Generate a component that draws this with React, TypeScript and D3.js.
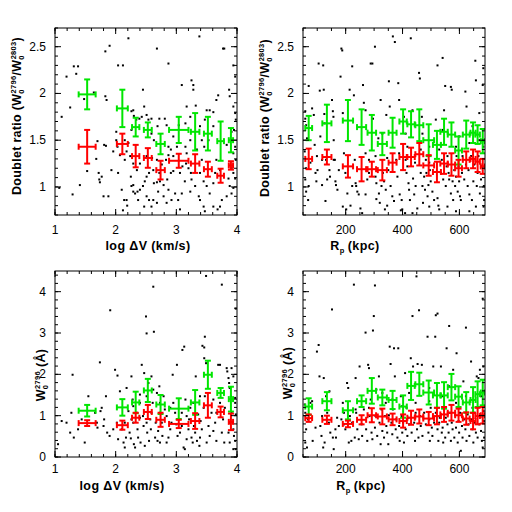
import React from 'react';
import * as d3 from 'd3';

// ---- binned values, log dV panels ----
const dvBins = [1.53, 2.11, 2.33, 2.53, 2.74, 3.04, 3.31, 3.52, 3.73, 3.9];
const dvBinErr = [0.14, 0.09, 0.06, 0.065, 0.07, 0.16, 0.07, 0.065, 0.055, 0.035];
const drDvGreen = [1.99, 1.84, 1.64, 1.61, 1.46, 1.61, 1.59, 1.57, 1.49, 1.5];
const drDvGreenErr = [0.16, 0.2, 0.1, 0.08, 0.11, 0.14, 0.2, 0.18, 0.21, 0.13];
const drDvRed = [1.43, 1.46, 1.33, 1.31, 1.18, 1.28, 1.25, 1.19, 1.12, 1.23];
const drDvRedErr = [0.18, 0.11, 0.12, 0.105, 0.1, 0.075, 0.1, 0.08, 0.075, 0.045];
const wDvGreen = [1.12, 1.2, 1.32, 1.61, 1.27, 1.17, 1.32, 1.99, 1.55, 1.4];
const wDvGreenErr = [0.14, 0.2, 0.26, 0.28, 0.23, 0.25, 0.3, 0.34, 0.12, 0.3];
const wDvRed = [0.82, 0.77, 0.95, 1.09, 0.9, 0.8, 0.87, 1.25, 1.09, 0.85];
const wDvRedErr = [0.07, 0.11, 0.12, 0.17, 0.17, 0.1, 0.19, 0.3, 0.13, 0.2];

// ---- binned values, Rp panels ----
const rpBins = [70, 134, 208, 256, 292, 329, 365, 402, 430, 459, 492, 521, 546, 572, 597, 624, 648, 664, 682];
const rpBinErr = [12, 16, 18, 16, 15, 16, 14, 13, 13, 14, 19, 14, 13, 13, 12, 12, 9, 8, 7];
const drRpGreen = [1.63, 1.68, 1.71, 1.64, 1.58, 1.46, 1.58, 1.7, 1.67, 1.66, 1.5, 1.45, 1.59, 1.56, 1.39, 1.56, 1.58, 1.56, 1.49];
const drRpGreenErr = [0.13, 0.2, 0.22, 0.19, 0.19, 0.12, 0.16, 0.13, 0.14, 0.17, 0.17, 0.15, 0.14, 0.13, 0.15, 0.15, 0.11, 0.1, 0.13];
const drRpRed = [1.3, 1.32, 1.22, 1.19, 1.19, 1.18, 1.26, 1.32, 1.32, 1.35, 1.23, 1.16, 1.25, 1.24, 1.2, 1.29, 1.3, 1.27, 1.22];
const drRpRedErr = [0.11, 0.08, 0.12, 0.13, 0.08, 0.11, 0.1, 0.14, 0.1, 0.12, 0.11, 0.11, 0.11, 0.12, 0.09, 0.09, 0.1, 0.11, 0.08];
const wRpGreen = [1.22, 1.35, 1.13, 1.35, 1.6, 1.44, 1.38, 1.22, 1.72, 1.76, 1.56, 1.49, 1.49, 1.69, 1.46, 1.32, 1.38, 1.52, 1.56];
const wRpGreenErr = [0.2, 0.22, 0.22, 0.14, 0.31, 0.19, 0.22, 0.27, 0.34, 0.28, 0.29, 0.3, 0.32, 0.32, 0.25, 0.25, 0.31, 0.31, 0.31];
const wRpRed = [0.94, 0.9, 0.8, 0.9, 1.01, 0.98, 0.91, 0.87, 0.95, 0.98, 0.93, 0.99, 1.03, 1.07, 1.01, 0.93, 0.87, 0.99, 1.01];
const wRpRedErr = [0.09, 0.1, 0.08, 0.11, 0.17, 0.19, 0.14, 0.16, 0.17, 0.17, 0.16, 0.2, 0.18, 0.19, 0.16, 0.15, 0.2, 0.2, 0.2];

// ---- individual absorbers (black dots) ----
const dotsDrDv: [number, number][] = [
  [1.11, 1.75], [1.07, 0.99], [1.19, 2.18], [1.25, 1.85], [1.29, 0.92], [1.31, 2.29], [1.35, 2.21], [1.38, 2.29],
  [1.41, 1.02], [1.48, 1.94], [1.64, 2.01], [1.7, 1.49], [1.68, 1.3], [1.53, 1.17], [1.72, 1.15], [1.73, 1.08],
  [1.74, 1.05], [1.77, 1.11], [1.83, 2.45], [1.9, 2.51], [1.83, 1.97], [1.85, 1.93], [1.81, 1.45], [1.84, 1.44],
  [1.8, 0.9], [1.88, 0.9], [2.04, 2.3], [2.12, 2.3], [2.21, 2.59], [2.01, 1.59], [2.01, 1.5], [2.03, 1.43],
  [2.07, 1.34], [2.04, 1.15], [2.1, 0.97], [2.12, 0.75], [2.18, 0.86], [2.19, 0.8], [2.26, 1.81], [2.29, 1.82],
  [2.3, 1.76], [2.34, 1.72], [2.26, 1.61], [2.39, 1.73], [2.43, 1.75], [2.45, 2.04], [2.47, 1.86], [2.51, 1.77],
  [2.54, 1.72], [2.59, 1.73], [2.59, 1.57], [2.63, 1.5], [2.68, 2.48], [2.69, 1.65], [2.72, 1.73], [2.81, 1.73],
  [2.87, 2.32], [2.84, 1.66], [2.68, 1.29], [2.6, 1.31], [2.51, 1.33], [2.4, 1.25], [2.29, 1.25], [2.35, 1.18],
  [2.25, 1.11], [2.29, 1.02], [2.29, 0.95], [2.32, 0.93], [2.36, 0.95], [2.4, 0.97], [2.45, 1.01], [2.48, 1.06],
  [2.51, 1.11], [2.55, 1.15], [2.62, 1.18], [2.63, 1.04], [2.68, 1.05], [2.73, 1.06], [2.79, 1.02], [2.85, 1.08],
  [2.91, 1.15], [2.95, 1.17], [2.95, 1.33], [2.91, 1.4], [2.87, 1.43], [2.95, 1.54], [2.47, 0.79], [2.62, 0.86],
  [2.68, 0.83], [2.79, 0.9], [2.84, 0.83], [3.06, 0.76], [3.09, 2.09], [3.17, 1.86], [3.25, 2.14], [3.28, 2.09],
  [3.28, 2.04], [3.32, 1.87], [3.17, 1.36], [3.2, 1.2], [3.24, 1.15], [3.25, 1.08], [3.23, 0.95], [3.31, 1.01],
  [3.37, 0.9], [3.39, 0.86], [3.45, 0.79], [3.47, 0.74], [3.38, 2.61], [3.5, 1.82], [3.55, 1.82], [3.61, 1.8],
  [3.47, 1.72], [3.46, 1.43], [3.61, 1.65], [3.69, 1.98], [3.66, 1.93], [3.77, 2.48], [3.79, 2.48], [3.87, 2.04],
  [3.88, 1.97], [3.94, 2.3], [3.97, 2.18], [3.94, 1.86], [3.97, 1.79], [3.98, 1.72], [3.95, 1.61], [3.91, 1.59],
  [3.83, 1.45], [3.97, 1.43], [3.94, 1.36], [3.98, 1.29], [3.91, 1.2], [3.94, 1.15], [3.86, 1.09], [3.97, 1.09],
  [3.88, 1.01], [3.94, 0.99], [3.91, 0.93], [3.83, 0.9], [3.75, 0.86], [3.72, 0.79], [3.68, 0.76], [3.61, 0.79],
  [3.55, 0.93], [3.61, 1.04], [3.64, 1.15], [3.72, 1.18], [3.66, 1.29], [3.42, 1.29], [3.39, 1.15], [3.45, 1.06],
  [3.5, 1.01], [3.14, 1.06], [3.09, 0.93], [3.03, 0.86], [2.98, 0.93], [2.92, 0.86], [2.87, 0.97], [3.06, 1.15],
  [3.1, 1.22], [3.16, 1.25], [2.15, 1.29], [2.18, 1.38], [2.15, 1.5], [2.21, 1.47], [2.24, 1.33], [1.96, 1.38],
  [1.93, 1.18], [2.14, 0.86], [2.26, 1.01], [2.37, 0.86], [2.51, 0.9], [2.55, 0.86], [2.59, 0.79], [2.7, 0.95],
  [2.72, 1.15], [2.76, 1.24], [2.83, 1.29], [2.87, 1.34], [3.01, 1.43], [3.04, 1.66], [3.15, 1.68], [3.23, 1.75],
  [3.39, 1.65], [3.42, 1.5], [3.53, 1.5], [3.34, 1.4], [3.23, 1.5], [3.15, 1.43],
];

const dotsDrRp: [number, number][] = [
  [58, 1.81], [58, 1.73], [61, 1.66], [64, 1.52], [56, 1.38], [61, 1.2], [58, 1.08], [61, 0.95], [68, 0.86], [70, 2.08],
  [82, 1.84], [88, 1.77], [91, 1.45], [94, 1.15], [97, 1.06], [101, 1.18], [105, 2.32], [109, 2.03], [111, 1.54], [117, 1.29],
  [117, 1.02], [121, 2.3], [123, 2.04], [125, 1.78], [126, 1.68], [129, 0.85], [131, 1.29], [135, 1.08], [143, 1.18], [145, 1.11],
  [152, 1.93], [155, 1.81], [157, 1.75], [158, 1.5], [162, 1.29], [164, 1.06], [166, 1.02], [171, 0.97], [182, 2.18], [185, 2.48],
  [188, 2.46], [190, 1.79], [190, 0.79], [194, 1.36], [199, 1.15], [202, 0.76], [206, 0.93], [214, 2.04], [217, 0.8], [223, 2.29],
  [229, 1.98], [232, 1.29], [235, 1.04], [237, 1.01], [241, 0.95], [246, 0.92], [252, 0.77], [258, 0.72], [261, 2.09], [264, 1.9],
  [270, 1.82], [270, 1.36], [276, 1.08], [282, 1.15], [288, 2.32], [294, 2.32], [296, 1.73], [303, 2.5], [305, 1.11], [308, 1.04],
  [308, 0.87], [315, 1.52], [317, 0.93], [320, 0.83], [323, 1.93], [326, 1.01], [331, 1.15], [335, 1.06], [338, 0.76], [341, 0.97],
  [343, 1.77], [346, 0.8], [350, 1.18], [352, 2.13], [355, 1.86], [358, 1.01], [364, 0.9], [366, 2.61], [370, 0.85], [373, 2.55],
  [378, 1.29], [382, 1.11], [385, 2.11], [388, 1.93], [390, 0.92], [394, 0.75], [397, 0.86], [399, 0.76], [405, 1.75], [409, 0.72],
  [411, 1.29], [414, 1.15], [417, 1.22], [421, 1.04], [423, 0.97], [426, 0.86], [429, 2.59], [435, 1.82], [437, 1.09], [441, 0.92],
  [444, 1.26], [446, 1.01], [452, 0.77], [458, 2.22], [461, 2.16], [464, 1.15], [468, 1.75], [470, 1.01], [472, 0.83], [476, 1.11],
  [479, 0.97], [482, 1.29], [484, 1.15], [488, 0.9], [491, 1.02], [494, 1.26], [496, 1.18], [499, 1.06], [505, 0.95], [511, 0.86],
  [517, 1.72], [523, 2.3], [523, 0.88], [526, 0.8], [529, 0.76], [535, 1.15], [538, 1.29], [541, 2.38], [543, 1.08], [546, 1.82],
  [550, 2.08], [552, 1.01], [555, 1.22], [558, 1.33], [562, 1.15], [564, 1.08], [570, 2.07], [570, 0.93], [573, 2.04], [576, 1.06],
  [578, 0.86], [582, 1.18], [585, 1.01], [588, 1.11], [590, 1.33], [594, 0.95], [597, 1.22], [599, 1.06], [602, 0.9], [605, 0.86],
  [609, 1.15], [611, 1.33], [617, 1.08], [621, 2.02], [623, 1.24], [625, 1.86], [629, 1.01], [632, 1.18], [635, 0.92], [641, 1.33],
  [644, 0.86], [649, 1.06], [652, 1.24], [656, 2.35], [658, 2.14], [661, 1.01], [664, 1.15], [667, 1.33], [670, 1.79], [672, 0.93],
  [676, 1.08], [679, 1.22], [682, 2.09], [684, 2.27], [684, 1.43], [686, 1.01], [687, 0.86], [685, 0.79], [658, 0.79], [635, 0.74],
  [588, 0.74], [558, 0.79], [494, 0.79], [435, 0.72], [270, 0.92], [223, 1.01], [176, 1.18], [158, 1.29], [99, 1.33], [76, 1.26],
  [70, 1.01], [282, 1.29], [305, 1.33], [346, 1.31], [388, 1.36], [417, 1.43], [464, 1.4], [494, 1.43], [529, 1.4], [588, 1.43],
  [635, 1.47], [670, 1.5], [329, 1.57], [411, 1.57], [470, 1.57], [541, 1.61], [599, 1.54], [646, 1.65],
];

const dotsWDv: [number, number][] = [
  [1.05, 0.31], [1.11, 0.87], [1.19, 0.83], [1.25, 0.59], [1.27, 1.07], [1.29, 1.99], [1.31, 0.47], [1.38, 0.67],
  [1.44, 0.91], [1.49, 0.35], [1.55, 1.47], [1.66, 1.07], [1.69, 0.83], [1.7, 0.71], [1.74, 2.29], [1.75, 1.11],
  [1.77, 1.19], [1.8, 0.75], [1.81, 0.91], [1.84, 1.47], [1.86, 0.59], [1.9, 0.51], [1.91, 3.55], [1.96, 0.67],
  [1.99, 2.11], [2.03, 1.97], [2.02, 0.83], [2.04, 0.43], [2.07, 1.59], [2.1, 0.67], [2.13, 0.35], [2.15, 0.23],
  [2.17, 0.47], [2.18, 1.67], [2.21, 1.11], [2.23, 0.59], [2.25, 0.45], [2.26, 1.95], [2.28, 1.39], [2.29, 0.83],
  [2.3, 0.31], [2.32, 0.23], [2.35, 1.07], [2.36, 0.67], [2.37, 0.47], [2.4, 1.51], [2.41, 0.35], [2.43, 2.23],
  [2.45, 0.99], [2.46, 0.75], [2.47, 2.03], [2.48, 0.27], [2.5, 3.4], [2.51, 2.99], [2.52, 0.59], [2.54, 1.79],
  [2.55, 0.39], [2.57, 0.91], [2.58, 0.67], [2.59, 1.95], [2.61, 1.31], [2.62, 4.12], [2.63, 3.03], [2.65, 0.47],
  [2.66, 0.83], [2.68, 1.55], [2.69, 0.39], [2.7, 0.63], [2.72, 1.71], [2.73, 0.35], [2.76, 0.83], [2.77, 0.51],
  [2.79, 1.47], [2.81, 1.15], [2.84, 0.35], [2.87, 0.47], [2.9, 0.67], [2.92, 0.83], [2.94, 1.99], [2.95, 1.31],
  [2.98, 1.07], [3.0, 0.79], [3.01, 2.23], [3.02, 0.51], [3.06, 0.59], [3.09, 1.07], [3.1, 2.59], [3.13, 2.67],
  [3.12, 0.23], [3.14, 0.19], [3.17, 0.43], [3.2, 0.67], [3.21, 0.91], [3.23, 1.19], [3.25, 0.47], [3.27, 0.35],
  [3.28, 1.31], [3.29, 0.75], [3.31, 0.59], [3.32, 1.95], [3.34, 0.39], [3.36, 1.03], [3.38, 0.27], [3.39, 0.47],
  [3.4, 0.87], [3.42, 0.67], [3.43, 2.69], [3.46, 2.65], [3.47, 2.91], [3.46, 2.39], [3.49, 2.27], [3.45, 1.19],
  [3.49, 4.38], [3.5, 0.35], [3.53, 0.75], [3.55, 0.51], [3.58, 1.07], [3.61, 0.63], [3.64, 0.83], [3.66, 0.39],
  [3.69, 2.23], [3.72, 2.23], [3.75, 4.17], [3.75, 0.59], [3.77, 0.91], [3.79, 0.35], [3.8, 1.19], [3.83, 2.15],
  [3.84, 2.07], [3.86, 1.91], [3.87, 1.79], [3.88, 1.67], [3.9, 1.47], [3.91, 1.07], [3.93, 0.83], [3.94, 0.67],
  [3.95, 0.51], [3.97, 0.39], [3.98, 0.19], [3.98, 3.59], [3.98, 1.03], [3.97, 1.43], [3.94, 1.95], [3.91, 2.15],
  [3.87, 0.83], [3.86, 0.59], [3.88, 0.35], [3.97, 1.31], [3.94, 0.19], [3.61, 1.39], [3.47, 1.47], [3.17, 0.99],
  [3.09, 0.75], [2.9, 1.19], [2.73, 1.07], [2.59, 1.07], [2.51, 0.83], [2.4, 0.95], [2.26, 0.91], [2.15, 0.83],
  [2.4, 1.31], [2.29, 1.23], [2.73, 1.31], [2.84, 0.99], [2.51, 1.47], [2.62, 1.63], [3.15, 1.39], [3.39, 1.47],
  [3.72, 1.31], [3.66, 1.07],
];

const dotsWRp: [number, number][] = [
  [56, 1.27], [58, 1.07], [61, 0.67], [58, 0.35], [64, 0.23], [68, 0.91], [76, 1.31], [82, 1.35], [84, 0.39], [94, 0.71],
  [99, 2.55], [105, 2.71], [108, 1.95], [111, 0.75], [115, 0.51], [117, 0.99], [121, 0.23], [123, 1.91], [126, 0.35], [131, 1.47],
  [135, 1.07], [141, 0.83], [143, 1.59], [146, 0.59], [152, 3.57], [155, 0.47], [158, 0.19], [164, 0.67], [166, 0.47], [170, 0.95],
  [176, 0.75], [185, 0.91], [190, 1.31], [194, 0.79], [199, 0.67], [205, 1.79], [209, 1.67], [211, 0.35], [215, 0.99], [220, 0.39],
  [223, 0.83], [229, 4.17], [232, 0.47], [235, 1.91], [237, 1.07], [241, 0.67], [246, 0.43], [249, 2.19], [256, 0.79], [258, 0.51],
  [264, 1.15], [270, 3.01], [272, 0.67], [276, 0.39], [279, 2.23], [282, 2.15], [284, 0.99], [288, 1.39], [291, 0.59], [294, 0.43],
  [296, 3.06], [299, 3.41], [303, 4.15], [303, 0.71], [305, 0.99], [308, 1.63], [311, 0.51], [317, 1.95], [319, 0.83], [323, 0.31],
  [326, 1.15], [329, 0.63], [335, 0.47], [338, 0.99], [341, 1.31], [343, 0.75], [346, 0.59], [350, 0.31], [352, 1.01], [355, 2.67],
  [358, 2.25], [361, 0.83], [364, 0.55], [366, 1.15], [370, 2.63], [373, 1.95], [376, 0.67], [378, 0.91], [382, 0.47], [385, 2.63],
  [388, 0.75], [390, 0.39], [394, 1.47], [397, 0.99], [399, 0.59], [402, 0.83], [405, 0.35], [409, 2.03], [411, 0.67], [414, 1.19],
  [417, 0.51], [421, 0.95], [423, 0.79], [429, 2.39], [432, 0.59], [435, 3.41], [437, 2.19], [441, 0.83], [444, 0.39], [446, 1.07],
  [449, 4.37], [451, 0.67], [453, 2.25], [456, 0.47], [458, 3.55], [461, 0.99], [464, 0.75], [468, 2.23], [470, 0.51], [476, 1.07],
  [482, 0.79], [488, 2.91], [491, 0.59], [494, 0.91], [496, 0.39], [499, 1.19], [503, 0.71], [505, 0.51], [508, 2.19], [511, 0.83],
  [515, 2.91], [517, 3.43], [517, 1.07], [523, 3.47], [523, 0.67], [526, 0.39], [529, 0.83], [531, 0.95], [535, 2.19], [538, 0.59],
  [541, 0.71], [543, 0.35], [546, 1.15], [550, 0.47], [552, 0.95], [555, 2.63], [558, 0.79], [562, 0.59], [564, 3.17], [567, 1.07],
  [570, 0.39], [573, 0.83], [576, 0.67], [578, 2.11], [582, 0.47], [585, 1.01], [588, 0.71], [590, 2.51], [594, 0.35], [597, 0.87],
  [599, 0.59], [602, 1.07], [605, 0.15], [609, 0.75], [611, 0.47], [614, 1.83], [617, 0.91], [621, 0.67], [623, 3.13], [625, 0.39],
  [629, 1.03], [632, 0.79], [635, 0.51], [641, 2.31], [644, 0.91], [646, 0.67], [649, 0.35], [652, 1.07], [655, 0.83], [658, 0.59],
  [661, 1.95], [664, 0.47], [667, 0.99], [670, 0.79], [672, 2.11], [676, 0.63], [679, 0.39], [682, 0.23], [682, 3.83], [684, 2.19],
  [686, 0.87], [687, 0.47], [685, 1.11], [667, 1.91], [646, 1.19], [588, 1.31], [541, 1.47], [494, 1.35], [446, 1.31], [399, 1.23],
  [364, 1.39], [329, 1.55], [282, 1.19], [235, 1.15], [194, 1.07], [423, 1.55], [494, 1.67], [564, 1.71], [623, 1.47], [676, 1.47],
];

const GREEN = '#00e600';
const RED = '#ff0000';
const TICK_FONT = '"Liberation Sans", Arial, sans-serif';

type Series = { x: number[]; xe: number[]; y: number[]; ye: number[]; color: string };

type PanelProps = {
  id: string;
  left: number; top: number; width: number; height: number;
  xDomain: [number, number]; yDomain: [number, number];
  xMajor: number[]; xMinor: number[]; yMajor: number[]; yMinor: number[];
  yFmt: (v: number) => string;
  xLabelOffset: number;
  dots: [number, number][];
  series: Series[];
};

const Panel = (p: PanelProps) => {
  const x = d3.scaleLinear().domain(p.xDomain).range([p.left, p.left + p.width]);
  const y = d3.scaleLinear().domain(p.yDomain).range([p.top + p.height, p.top]);
  const bottom = p.top + p.height;
  const right = p.left + p.width;
  const cap = 3;

  return (
    <g>
      <defs>
        <clipPath id={`clip-${p.id}`}>
          <rect x={p.left} y={p.top} width={p.width} height={p.height} />
        </clipPath>
      </defs>
      <g clipPath={`url(#clip-${p.id})`}>
        {p.dots.map((d, i) => (
          <rect key={i} x={x(d[0]) - 1} y={y(d[1]) - 1} width={2} height={2} fill="#000" />
        ))}
        {p.series.map((s, si) => (
          <g key={si} stroke={s.color} strokeWidth={2} fill="none">
            {s.x.map((xv, i) => {
              const cx = x(xv), cy = y(s.y[i]);
              const x0 = x(xv - s.xe[i]), x1 = x(xv + s.xe[i]);
              const y0 = y(s.y[i] - s.ye[i]), y1 = y(s.y[i] + s.ye[i]);
              return (
                <g key={i}>
                  <line x1={x0} x2={x1} y1={cy} y2={cy} />
                  <line x1={x0} x2={x0} y1={cy - cap} y2={cy + cap} />
                  <line x1={x1} x2={x1} y1={cy - cap} y2={cy + cap} />
                  <line x1={cx} x2={cx} y1={y0} y2={y1} />
                  <line x1={cx - cap} x2={cx + cap} y1={y0} y2={y0} />
                  <line x1={cx - cap} x2={cx + cap} y1={y1} y2={y1} />
                </g>
              );
            })}
          </g>
        ))}
      </g>
      <g stroke="#000" strokeWidth={1}>
        {p.xMinor.map((t, i) => (
          <g key={'xm' + i}>
            <line x1={x(t)} x2={x(t)} y1={bottom} y2={bottom - 3} />
            <line x1={x(t)} x2={x(t)} y1={p.top} y2={p.top + 3} />
          </g>
        ))}
        {p.xMajor.map((t, i) => (
          <g key={'xM' + i}>
            <line x1={x(t)} x2={x(t)} y1={bottom} y2={bottom - 6} />
            <line x1={x(t)} x2={x(t)} y1={p.top} y2={p.top + 6} />
          </g>
        ))}
        {p.yMinor.map((t, i) => (
          <g key={'ym' + i}>
            <line x1={p.left} x2={p.left + 3} y1={y(t)} y2={y(t)} />
            <line x1={right} x2={right - 3} y1={y(t)} y2={y(t)} />
          </g>
        ))}
        {p.yMajor.map((t, i) => (
          <g key={'yM' + i}>
            <line x1={p.left} x2={p.left + 6} y1={y(t)} y2={y(t)} />
            <line x1={right} x2={right - 6} y1={y(t)} y2={y(t)} />
          </g>
        ))}
      </g>
      <rect x={p.left} y={p.top} width={p.width} height={p.height} fill="none" stroke="#000" strokeWidth={1} />
      <g fontFamily={TICK_FONT} fontSize={12} fill="#000">
        {p.xMajor.map((t, i) => (
          <text key={'xl' + i} x={x(t)} y={bottom + p.xLabelOffset} textAnchor="middle">{String(t)}</text>
        ))}
        {p.yMajor.map((t, i) => (
          <text key={'yl' + i} x={p.left - 9} y={y(t) + 4} textAnchor="end">{p.yFmt(t)}</text>
        ))}
      </g>
    </g>
  );
};

const TITLE_FONT = '"Liberation Sans", Arial, sans-serif';

const DoubletTitle = ({ cx, cy }: { cx: number; cy: number }) => (
  <text transform={`translate(${cx},${cy}) rotate(-90)`} textAnchor="middle" fontFamily={TITLE_FONT}
    fontWeight="bold" fontSize={12.5} letterSpacing={0.3}>
    Doublet ratio (W<tspan fontSize={7.5} dy={3}>0</tspan>
    <tspan fontSize={7.5} dx={-4.2} dy={-8}>2796</tspan>
    <tspan dy={5}>/W</tspan><tspan fontSize={7.5} dy={3}>0</tspan>
    <tspan fontSize={7.5} dx={-4.2} dy={-8}>2803</tspan>
    <tspan dy={5}>)</tspan>
  </text>
);

const WTitle = ({ cx, cy }: { cx: number; cy: number }) => (
  <text transform={`translate(${cx},${cy}) rotate(-90)`} textAnchor="middle" fontFamily={TITLE_FONT}
    fontWeight="bold" fontSize={12.5} letterSpacing={0.3}>
    W<tspan fontSize={7.5} dy={3}>0</tspan>
    <tspan fontSize={7.5} dx={-4.2} dy={-8}>2796</tspan>
    <tspan dx={4} dy={5}>(Å)</tspan>
  </text>
);

const XTitle = ({ cx, y, rp }: { cx: number; y: number; rp: boolean }) => (
  <text x={cx} y={y} textAnchor="middle" fontFamily={TITLE_FONT} fontWeight="bold" fontSize={12.5}
    letterSpacing={0.4}>
    {rp ? (
      <>R<tspan fontSize={7.5} dy={3}>p</tspan><tspan dx={3} dy={-3}>(kpc)</tspan></>
    ) : (
      'log ΔV (km/s)'
    )}
  </text>
);

const App = () => {
  const dvMajor = [1, 2, 3, 4];
  const dvMinor = d3.range(1, 4.001, 0.2);
  const rpMajor = [200, 400, 600];
  const rpMinor = d3.range(50, 690, 50);
  const drMajor = [1, 1.5, 2, 2.5];
  const drMinor = d3.range(0.7, 2.701, 0.1);
  const wMajor = [0, 1, 2, 3, 4];
  const wMinor = d3.range(0, 4.501, 0.2);

  const pw = 182, ph = 187;
  return (
    <svg width={512} height={512} style={{ position: 'absolute', left: 0, top: 0, background: '#fff' }}>
      <Panel id="a" left={55} top={28} width={pw} height={ph} xDomain={[1, 4]} yDomain={[0.7, 2.7]}
        xMajor={dvMajor} xMinor={dvMinor} yMajor={drMajor} yMinor={drMinor} yFmt={d3.format('')}
        xLabelOffset={19} dots={dotsDrDv}
        series={[
          { x: dvBins, xe: dvBinErr, y: drDvGreen, ye: drDvGreenErr, color: GREEN },
          { x: dvBins, xe: dvBinErr, y: drDvRed, ye: drDvRedErr, color: RED },
        ]} />
      <Panel id="b" left={303} top={28} width={pw} height={ph} xDomain={[50, 690]} yDomain={[0.7, 2.7]}
        xMajor={rpMajor} xMinor={rpMinor} yMajor={drMajor} yMinor={drMinor} yFmt={d3.format('')}
        xLabelOffset={19} dots={dotsDrRp}
        series={[
          { x: rpBins, xe: rpBinErr, y: drRpGreen, ye: drRpGreenErr, color: GREEN },
          { x: rpBins, xe: rpBinErr, y: drRpRed, ye: drRpRedErr, color: RED },
        ]} />
      <Panel id="c" left={55} top={271} width={pw} height={186} xDomain={[1, 4]} yDomain={[0, 4.5]}
        xMajor={dvMajor} xMinor={dvMinor} yMajor={wMajor} yMinor={wMinor} yFmt={d3.format('')}
        xLabelOffset={16} dots={dotsWDv}
        series={[
          { x: dvBins, xe: dvBinErr, y: wDvGreen, ye: wDvGreenErr, color: GREEN },
          { x: dvBins, xe: dvBinErr, y: wDvRed, ye: wDvRedErr, color: RED },
        ]} />
      <Panel id="d" left={303} top={271} width={pw} height={186} xDomain={[50, 690]} yDomain={[0, 4.5]}
        xMajor={rpMajor} xMinor={rpMinor} yMajor={wMajor} yMinor={wMinor} yFmt={d3.format('')}
        xLabelOffset={16} dots={dotsWRp}
        series={[
          { x: rpBins, xe: rpBinErr, y: wRpGreen, ye: wRpGreenErr, color: GREEN },
          { x: rpBins, xe: rpBinErr, y: wRpRed, ye: wRpRedErr, color: RED },
        ]} />

      <DoubletTitle cx={21} cy={116} />
      <DoubletTitle cx={269} cy={118} />
      <WTitle cx={45} cy={375} />
      <WTitle cx={292} cy={373} />
      <XTitle cx={148} y={250} rp={false} />
      <XTitle cx={355} y={250} rp={true} />
      <XTitle cx={122} y={490} rp={false} />
      <XTitle cx={361} y={490} rp={true} />
    </svg>
  );
};

export default App;
